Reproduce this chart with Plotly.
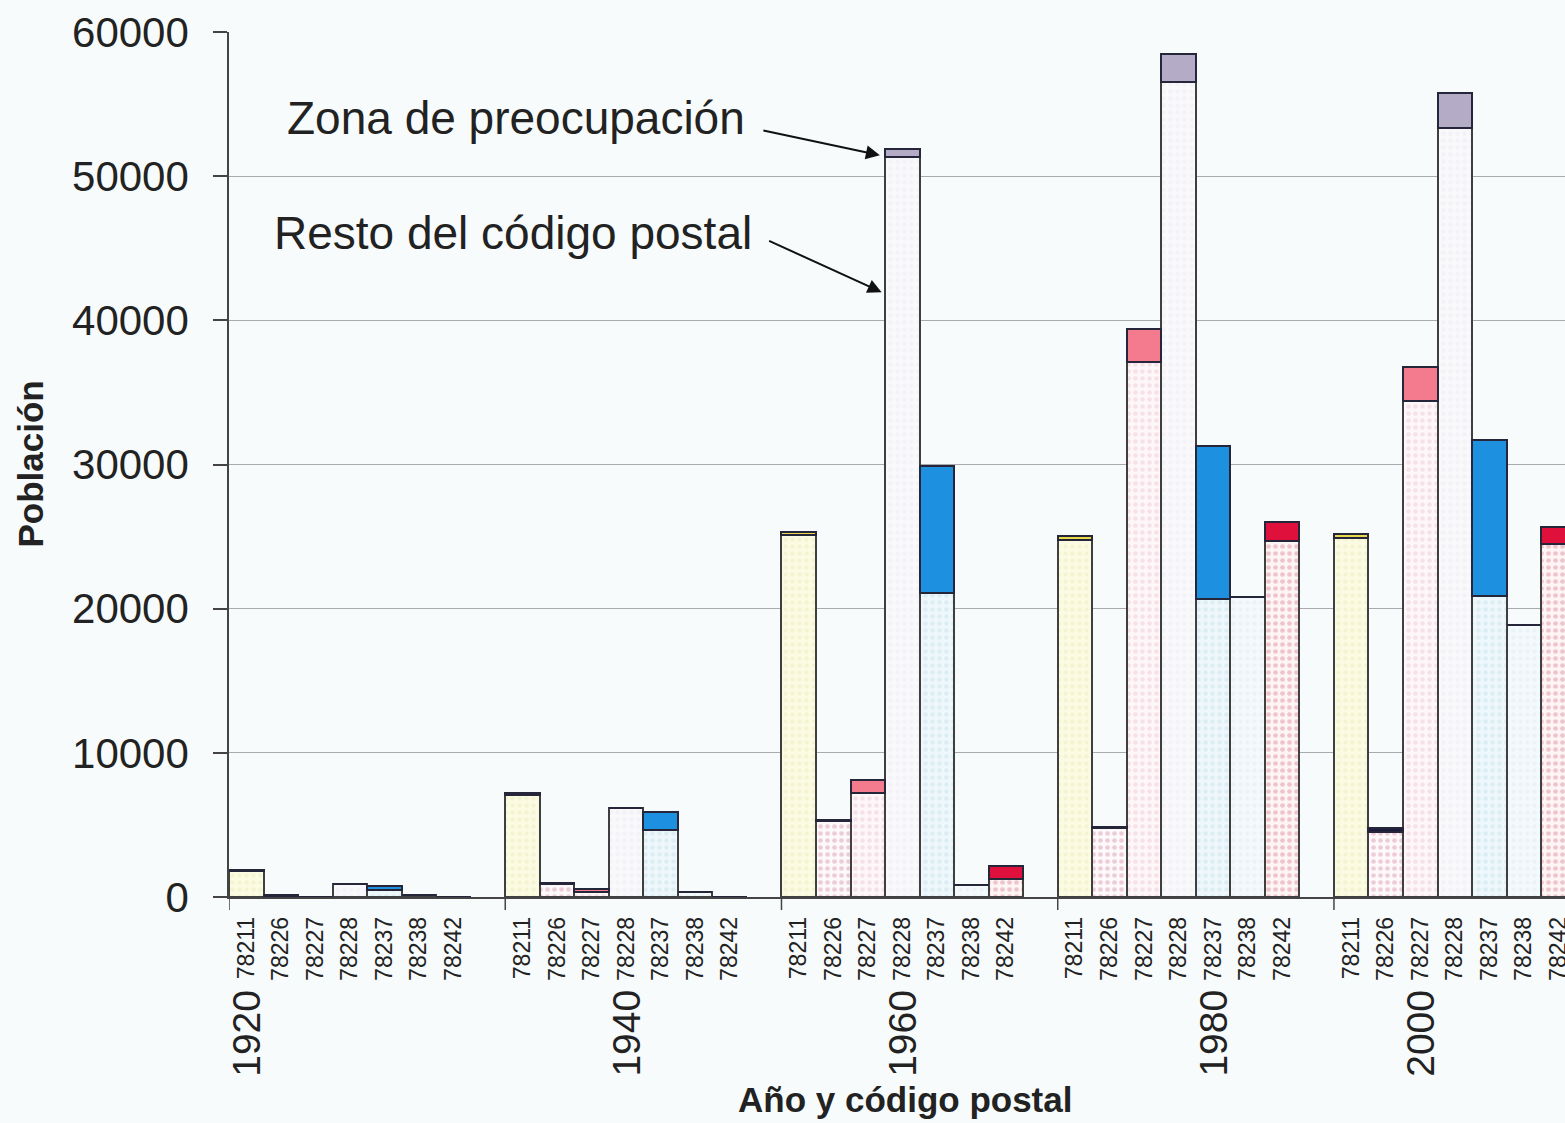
import plotly.graph_objects as go

# ---------------- data ----------------
years = ["1920", "1940", "1960", "1980", "2000"]
zips = ["78211", "78226", "78227", "78228", "78237", "78238", "78242"]
y_ticks = [0, 10000, 20000, 30000, 40000, 50000, 60000]

# "Resto del código postal" (lower segment) per zip, by year
resto_78211 = [1800, 7100, 25100, 24760, 24920]
resto_78226 = [100, 920, 5240, 4780, 4530]
resto_78227 = [0, 350, 7240, 37080, 34400]
resto_78228 = [880, 6150, 51350, 56550, 53340]
resto_78237 = [480, 4650, 21060, 20650, 20900]
resto_78238 = [140, 320, 850, 20780, 18870]
resto_78242 = [0, 0, 1250, 24710, 24490]

# "Zona de preocupación" (upper segment) per zip, by year
zona_78211 = [40, 100, 220, 250, 230]
zona_78226 = [40, 20, 100, 100, 230]
zona_78227 = [0, 230, 900, 2320, 2380]
zona_78228 = [0, 0, 530, 1950, 2430]
zona_78237 = [280, 1270, 8830, 10650, 10800]
zona_78238 = [0, 0, 0, 0, 0]
zona_78242 = [0, 0, 920, 1320, 1150]

resto = [resto_78211, resto_78226, resto_78227, resto_78228,
         resto_78237, resto_78238, resto_78242]
zona = [zona_78211, zona_78226, zona_78227, zona_78228,
        zona_78237, zona_78238, zona_78242]

# ---------------- styles ----------------
FONT = "Liberation Sans, Arial, Helvetica, sans-serif"
BG = "#f7fbfc"
OUTLINE = "#3f3f3f"
rest_bg = ["#fbfbe4", "#fdf8fa", "#fdf7f9", "#f9f9fc", "#eef7fb", "#f4f9fb", "#fdf4f6"]
rest_fg = ["#efeec0", "#dc9fb4", "#efcbd6", "#ecebf2", "#c9e3ee", "#e3eef3", "#e0919f"]
zona_col = ["#e8d84a", "#1c1c3c", "#f47b8e", "#b4abc6", "#1e90e0", "#a8cfe6", "#e0103c"]

slots = len(zips) + 1  # 7 bars + a gap per year group

fig = go.Figure()

def xpos(i):
    return [g * slots + i + 0.5 for g in range(len(years))]

for i, z in enumerate(zips):
    fig.add_trace(go.Bar(
        x=xpos(i), y=resto[i], width=1,
        marker=dict(color=rest_bg[i],
                    line=dict(color=OUTLINE, width=2),
                    pattern=dict(shape=".", fgcolor=rest_fg[i], bgcolor=rest_bg[i],
                                 size=7, solidity=0.35, fillmode="overlay")),
        name="Resto " + z, showlegend=False))

for i, z in enumerate(zips):
    fig.add_trace(go.Bar(
        x=xpos(i), y=zona[i], width=1,
        marker=dict(color=zona_col[i], line=dict(color="#26263a", width=2)),
        name="Zona " + z, showlegend=False))

tickvals = [g * slots + i + 0.5 for g in range(len(years)) for i in range(len(zips))]
ticktext = [z for g in range(len(years)) for z in zips]

PLOT_L, PLOT_T, PLOT_B = 229, 32, 226
W, H = 1565, 1123
plot_w = W - PLOT_L
plot_h = H - PLOT_T - PLOT_B
slot_px = 34.53
x_max = plot_w / slot_px

fig.update_layout(
    width=W, height=H,
    margin=dict(l=PLOT_L, r=0, t=PLOT_T, b=PLOT_B, pad=0, autoexpand=False),
    paper_bgcolor=BG, plot_bgcolor=BG,
    barmode="stack", bargap=0,
    font=dict(family=FONT, color="#222222"),
    xaxis=dict(range=[0, x_max], tickmode="array", tickvals=tickvals, ticktext=ticktext,
               tickangle=-90, tickfont=dict(size=23, color="#222222"),
               ticks="", ticklabelstandoff=9, ticklabeloverflow="allow",
               automargin=False,
               showgrid=False, zeroline=False,
               showline=True, linecolor="#444444", linewidth=1.5),
    yaxis=dict(range=[0, 60000], tickmode="array", tickvals=y_ticks,
               ticktext=[str(v) for v in y_ticks],
               tickfont=dict(size=42, color="#222222"),
               ticks="outside", ticklen=14, tickwidth=1.5, tickcolor="#444444",
               ticklabelstandoff=16, automargin=False,
               showgrid=True, gridcolor="#a8aaad", gridwidth=1.2,
               zeroline=False, showline=True, linecolor="#444444", linewidth=1.5),
)

# group separator ticks below the category axis
tick_dy = 13 / plot_h
for g in range(len(years) + 1):
    fig.add_shape(type="line", xref="x", yref="paper",
                  x0=g * slots, x1=g * slots, y0=0, y1=-tick_dy,
                  line=dict(color="#444444", width=1.5))

# year labels
year_label_slot = [0, 3, 3, 4, 2]
for g, yr in enumerate(years):
    fig.add_annotation(x=g * slots + year_label_slot[g] + 0.5, xref="x",
                       y=(PLOT_T + plot_h - 988) / plot_h, yref="paper",
                       text=yr, textangle=-90, showarrow=False,
                       xanchor="center", yanchor="top",
                       font=dict(size=39, color="#222222", family=FONT))

# axis titles
fig.add_annotation(x=(30 - PLOT_L) / plot_w, xref="paper", y=0.5, yref="paper",
                   text="<b>Población</b>", textangle=-90, showarrow=False,
                   xanchor="center", yanchor="middle",
                   font=dict(size=35, color="#222222", family=FONT))
fig.add_annotation(x=(905 - PLOT_L) / plot_w, xref="paper",
                   y=(PLOT_T + plot_h - 1099) / plot_h, yref="paper",
                   text="<b>Año y código postal</b>", showarrow=False,
                   xanchor="center", yanchor="middle",
                   font=dict(size=35, color="#222222", family=FONT))

# callout texts
fig.add_annotation(x=(516 - PLOT_L) / plot_w, xref="paper",
                   y=(PLOT_T + plot_h - 118) / plot_h, yref="paper",
                   text="Zona de preocupación", showarrow=False,
                   xanchor="center", yanchor="middle",
                   font=dict(size=46, color="#222222", family=FONT))
fig.add_annotation(x=(513 - PLOT_L) / plot_w, xref="paper",
                   y=(PLOT_T + plot_h - 233) / plot_h, yref="paper",
                   text="Resto del código postal", showarrow=False,
                   xanchor="center", yanchor="middle",
                   font=dict(size=46, color="#222222", family=FONT))

# arrows pointing at the 1960 / 78228 bar
g60 = years.index("1960")
i28 = zips.index("78228")
bar_left = g60 * slots + i28
fig.add_annotation(x=bar_left - 0.15, y=resto_78228[g60] + zona_78228[g60] * 0.2,
                   xref="x", yref="y", text="", showarrow=True,
                   ax=-118, ay=-25, arrowhead=2, arrowsize=1.4, arrowwidth=2,
                   arrowcolor="#111111")
fig.add_annotation(x=bar_left - 0.1, y=resto_78228[g60] * 0.817,
                   xref="x", yref="y", text="", showarrow=True,
                   ax=-114, ay=-52, arrowhead=2, arrowsize=1.4, arrowwidth=2,
                   arrowcolor="#111111")

fig.write_html(
    "out.html",
    config={"displayModeBar": False},
    post_script="document.body.style.margin='0';document.body.style.overflow='hidden';"
                "document.body.style.background='" + BG + "';",
)
